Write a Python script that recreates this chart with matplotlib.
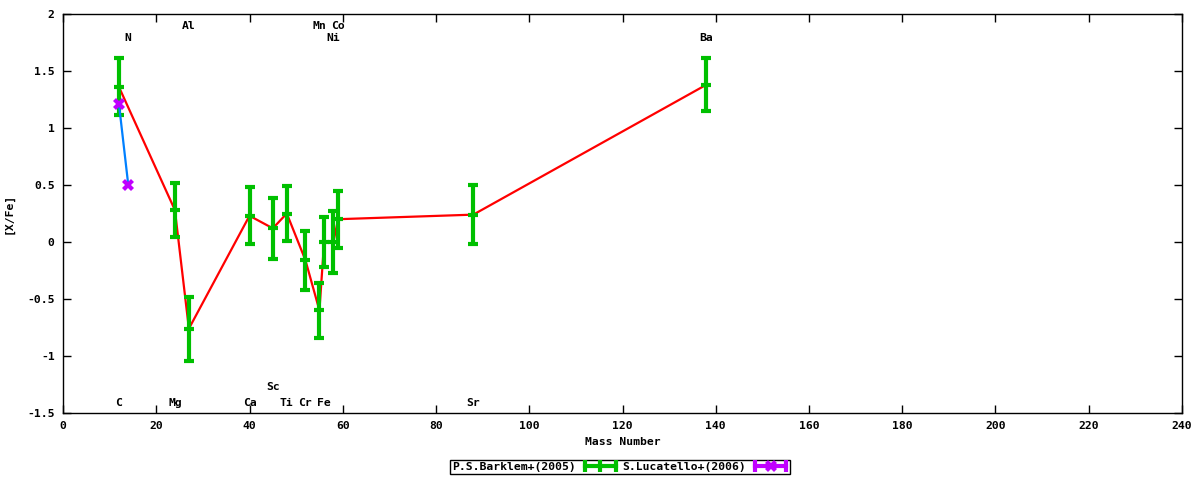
import matplotlib
matplotlib.use("Agg")
import matplotlib.pyplot as plt
from matplotlib.ticker import FuncFormatter
from matplotlib.legend_handler import HandlerBase
from matplotlib.lines import Line2D

# Barklem+2005 data
b_elem = ["C", "Mg", "Al", "Ca", "Sc", "Ti", "Cr", "Mn", "Fe", "Ni", "Co", "Sr", "Ba"]
b_mass = [12, 24, 27, 40, 45, 48, 52, 55, 56, 58, 59, 88, 138]
b_val = [1.36, 0.28, -0.76, 0.23, 0.12, 0.25, -0.16, -0.60, 0.00, 0.00, 0.20, 0.24, 1.38]
b_err = [0.25, 0.24, 0.28, 0.25, 0.27, 0.24, 0.26, 0.24, 0.22, 0.27, 0.25, 0.26, 0.23]

# Lucatello+2006 data
l_elem = ["C", "N"]
l_mass = [12, 14]
l_val = [1.21, 0.50]
l_err = [0.0, 0.0]

# Element labels: (name, mass, y position)
lab_names = ["N", "Al", "Mn", "Co", "Ni", "Ba", "C", "Mg", "Ca", "Sc", "Ti", "Cr", "Fe", "Sr"]
lab_x = [14, 27, 55, 59, 58, 138, 12, 24, 40, 45, 48, 52, 56, 88]
lab_y = [1.79, 1.895, 1.895, 1.895, 1.79, 1.79, -1.41, -1.41, -1.41, -1.27, -1.41, -1.41, -1.41, -1.41]

FONT = "DejaVu Sans Mono"
FS = 8.2
plt.rcParams["font.family"] = FONT
plt.rcParams["font.weight"] = "bold"
plt.rcParams["font.size"] = FS

fig = plt.figure(figsize=(12, 4.8), dpi=100)
ax = fig.add_axes([63/1200, 1-413/480, (1182-63)/1200, (413-14)/480])

GREEN = "#00c000"
PURPLE = "#c000ff"

ax.plot(b_mass, b_val, color="red", lw=1.6, zorder=2)
ax.errorbar(b_mass, b_val, yerr=b_err, fmt="_", color=GREEN, ecolor=GREEN,
            elinewidth=3, capsize=3.5, capthick=3, markersize=7, mew=3,
            linestyle="none", zorder=3)
ax.plot(l_mass, l_val, color="#0080ff", lw=1.6, zorder=4)
ax.errorbar(l_mass, l_val, yerr=l_err, fmt="X", color=PURPLE, ecolor=PURPLE,
            elinewidth=3, capsize=3.5, capthick=3, markersize=9, mew=0,
            linestyle="none", zorder=5)

for n, x, y in zip(lab_names, lab_x, lab_y):
    ax.text(x, y, n, ha="center", va="center", fontsize=FS, fontweight="bold", family=FONT)

ax.set_xlim(0, 240)
ax.set_ylim(-1.5, 2)
ax.set_xticks(range(0, 241, 20))
ax.set_yticks([-1.5, -1, -0.5, 0, 0.5, 1, 1.5, 2])
ax.yaxis.set_major_formatter(FuncFormatter(lambda v, p: f"{v:g}"))
ax.tick_params(direction="in", length=6, width=1, top=True, right=True, labelsize=FS, pad=6)
for s in ax.spines.values():
    s.set_linewidth(1)
    s.set_color("black")

ax.set_xlabel("Mass Number", fontsize=FS, fontweight="bold", labelpad=4)
ax.set_ylabel("[X/Fe]", fontsize=FS, fontweight="bold")
ax.yaxis.set_label_coords((14-63)/1119, 0.5)


class ErrSample(HandlerBase):
    def __init__(self, color, center):
        super().__init__()
        self.color = color
        self.center = center

    def create_artists(self, legend, orig_handle, xdescent, ydescent, width, height, fontsize, trans):
        y = height / 2 - ydescent
        x0, x1 = -xdescent + 1.5, width - xdescent - 1.5
        arts = [Line2D([x0, x1], [y, y], color=self.color, lw=3, transform=trans),
                Line2D([x0, x1], [y, y], color=self.color, lw=0, marker="|", ms=8, mew=3, transform=trans)]
        xm = (x0 + x1) / 2
        if self.center == "X":
            arts.append(Line2D([xm], [y], color=self.color, lw=0, marker="X", ms=9, mew=0, transform=trans))
        else:
            arts.append(Line2D([xm], [y], color=self.color, lw=0, marker="|", ms=8, mew=3, transform=trans))
        return arts


h1 = Line2D([], [], color=GREEN)
h2 = Line2D([], [], color=PURPLE)
leg = fig.legend([h1, h2], ["P.S.Barklem+(2005)", "S.Lucatello+(2006)"],
                 handler_map={h1: ErrSample(GREEN, "|"), h2: ErrSample(PURPLE, "X")},
                 loc="center", bbox_to_anchor=(620/1200, 1-467/480), ncol=2,
                 markerfirst=False, frameon=True, fancybox=False, edgecolor="black",
                 framealpha=1, borderpad=0.15, handlelength=3.1, columnspacing=0.4,
                 handletextpad=0.6, borderaxespad=0, fontsize=FS)
leg.get_frame().set_linewidth(1)

fig.savefig("out.png", dpi=100)
